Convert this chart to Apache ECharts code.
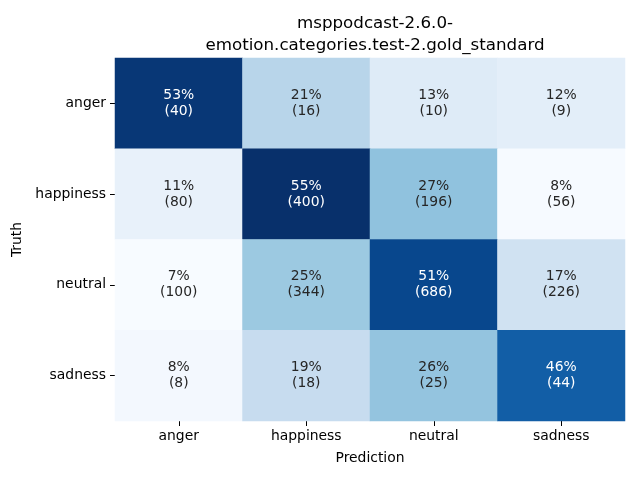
<!DOCTYPE html>
<html>
<head>
<meta charset="utf-8">
<script src="https://cdn.jsdelivr.net/npm/echarts@6/dist/echarts.min.js"></script>
<style>html,body{margin:0;padding:0;background:#fff}#c{width:640px;height:480px}</style>
</head>
<body>
<div id="c"></div>
<script>
const categories = ['anger', 'happiness', 'neutral', 'sadness'];
const countsAnger = [40, 16, 10, 9];
const countsHappiness = [80, 400, 196, 56];
const countsNeutral = [100, 344, 686, 226];
const countsSadness = [8, 18, 25, 44];
const titleText = 'msppodcast-2.6.0-\nemotion.categories.test-2.gold_standard';
const xName = 'Prediction';
const yName = 'Truth';

const rows = [countsAnger, countsHappiness, countsNeutral, countsSadness];
const data = [];
let vmin = Infinity, vmax = -Infinity;
rows.forEach((row, yi) => {
  const tot = row.reduce((a, b) => a + b, 0);
  row.forEach((c, xi) => {
    const p = c / tot;
    vmin = Math.min(vmin, p); vmax = Math.max(vmax, p);
    data.push({ xi, yi, p, c });
  });
});
const font = 'DejaVu Sans';
const seriesData = data.map(d => {
  const norm = (d.p - vmin) / (vmax - vmin);
  return {
    value: [d.xi, d.yi, d.p],
    count: d.c,
    label: { color: norm > 0.6 ? '#ffffff' : '#262626' }
  };
});

const chart = echarts.init(document.getElementById('c'), null, { renderer: 'canvas' });
chart.setOption({
  animation: false,
  backgroundColor: '#ffffff',
  title: {
    text: titleText,
    left: 370, top: 8, textAlign: 'center',
    textStyle: { fontFamily: font, fontSize: 16.7, fontWeight: 'normal', color: '#000', lineHeight: 22 }
  },
  grid: { left: 115, right: 15, top: 58, bottom: 59 },
  xAxis: {
    type: 'category', data: categories,
    name: xName, nameLocation: 'middle', nameGap: 30,
    nameTextStyle: { fontFamily: font, fontSize: 13.9, color: '#000' },
    axisLine: { show: false },
    axisTick: { show: true, alignWithLabel: true, length: 5, lineStyle: { color: '#000' } },
    axisLabel: { fontFamily: font, fontSize: 13.9, color: '#000', margin: 8 },
    splitLine: { show: false }
  },
  yAxis: {
    type: 'category', data: categories, inverse: true,
    name: yName, nameLocation: 'middle', nameGap: 80, nameRotate: 90,
    nameTextStyle: { fontFamily: font, fontSize: 13.9, color: '#000' },
    axisLine: { show: false },
    axisTick: { show: true, alignWithLabel: true, length: 5, lineStyle: { color: '#000' } },
    axisLabel: { fontFamily: font, fontSize: 13.9, color: '#000', margin: 9 },
    splitLine: { show: false }
  },
  visualMap: {
    show: false, min: vmin, max: vmax, dimension: 2,
    inRange: { color: ['#f7fbff', '#deebf7', '#c6dbef', '#9ecae1', '#6baed6', '#4292c6', '#2171b5', '#08519c', '#08306b'] }
  },
  series: [{
    type: 'heatmap',
    data: seriesData,
    label: {
      show: true, fontFamily: font, fontSize: 13.9, lineHeight: 16,
      formatter: p => Math.round(p.value[2] * 100) + '%\n(' + p.data.count + ')'
    },
    itemStyle: { borderWidth: 0 },
    emphasis: { disabled: true }
  }]
});
</script>
</body>
</html>
